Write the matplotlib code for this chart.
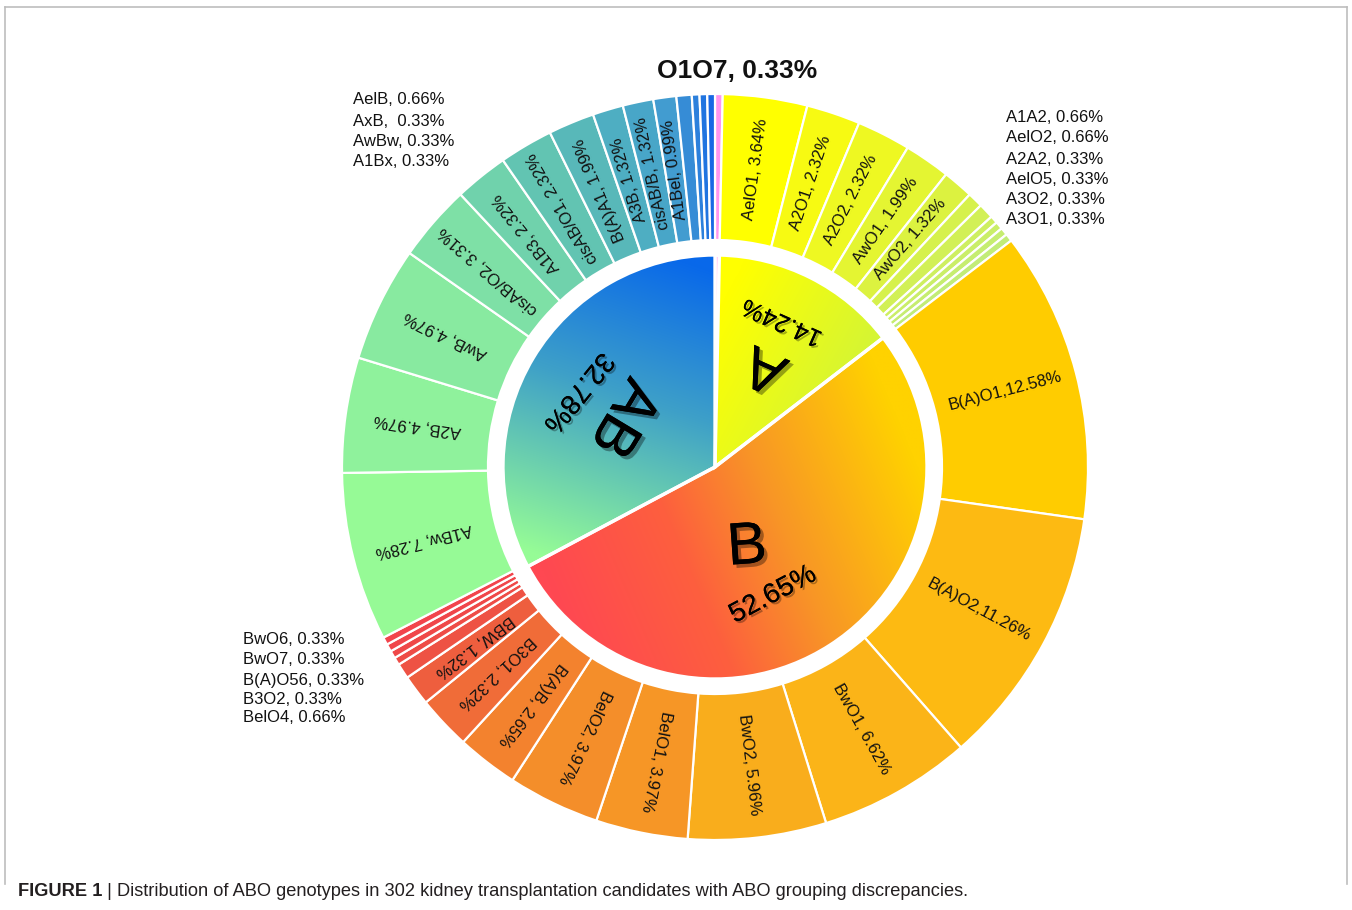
import numpy as np
import matplotlib
matplotlib.use('Agg')
import matplotlib.pyplot as plt
from matplotlib import patheffects as pe
from matplotlib import font_manager
from matplotlib.lines import Line2D

# ---------------- data ----------------
group_names = ['O1O7', 'A', 'B', 'AB']
group_values = [0.33, 14.24, 52.65, 32.78]

o_genotypes = ['O1O7']
o_values = [0.33]

a_genotypes = ['AelO1', 'A2O1', 'A2O2', 'AwO1', 'AwO2',
               'A1A2', 'AelO2', 'A2A2', 'AelO5', 'A3O2', 'A3O1']
a_values = [3.64, 2.32, 2.32, 1.99, 1.32, 0.66, 0.66, 0.33, 0.33, 0.33, 0.33]

b_genotypes = ['B(A)O1', 'B(A)O2', 'BwO1', 'BwO2', 'BelO1', 'BelO2', 'B(A)B',
               'B3O1', 'BBW', 'BelO4', 'B3O2', 'B(A)O56', 'BwO7', 'BwO6']
b_values = [12.58, 11.26, 6.62, 5.96, 3.97, 3.97, 2.65, 2.32, 1.32,
            0.66, 0.33, 0.33, 0.33, 0.33]

ab_genotypes = ['A1Bw', 'A2B', 'AwB', 'cisAB/O2', 'A1B3', 'cisAB/O1', 'B(A)A1',
                'A3B', 'cisAB/B', 'A1Bel', 'AelB', 'AxB', 'AwBw', 'A1Bx']
ab_values = [7.28, 4.97, 4.97, 3.31, 2.32, 2.32, 1.99, 1.32, 1.32, 0.99,
             0.66, 0.33, 0.33, 0.33]

no_space_after_comma = ['B(A)O1', 'B(A)O2']
inside_label_min = 0.99

top_callout = 'O1O7, 0.33%'
ab_callouts = ['AelB, 0.66%', 'AxB,  0.33%', 'AwBw, 0.33%', 'A1Bx, 0.33%']
a_callouts = ['A1A2, 0.66%', 'AelO2, 0.66%', 'A2A2, 0.33%',
              'AelO5, 0.33%', 'A3O2, 0.33%', 'A3O1, 0.33%']
b_callouts = ['BwO6, 0.33%', 'BwO7, 0.33%', 'B(A)O56, 0.33%',
              'B3O2, 0.33%', 'BelO4, 0.66%']

caption_bold = 'FIGURE 1'
caption_rest = ' | Distribution of ABO genotypes in 302 kidney transplantation candidates with ABO grouping discrepancies.'

# ---------------- styles ----------------
o_colors = ['#FF96F0']
a_colors = ['#FFFF00', '#F7FA12', '#EEF822', '#E4F532', '#DCF240',
            '#D6F14C', '#D2F056', '#CEEF60', '#CAEE68', '#C6ED70', '#C2EC78']
b_colors = ['#FFCC00', '#FDBA12', '#FBB418', '#F9AD1C', '#F69626', '#F48E2A',
            '#F3822E', '#F06C38', '#EE5E3E', '#EE5244', '#EE4C46', '#EF4848',
            '#F0464A', '#F2444C']
ab_colors = ['#96FA96', '#8FF29C', '#88EAA0', '#7EE0A6', '#70D2AC', '#62C4B2',
             '#58B8B9', '#4EAEC2', '#48A6C8', '#429CD0', '#368CD6', '#2C80DC',
             '#2074E0', '#1868E4']

W, H = 1352, 910
CX, CY = 715, H - 467
R_OUT, R_RING_IN, R_PIE = 373, 227, 212
R_LABEL = 300

FONT = ['Liberation Sans', 'DejaVu Sans']
plt.rcParams['font.family'] = FONT

fig = plt.figure(figsize=(W / 100, H / 100), dpi=100)
ax = fig.add_axes([0, 0, 1, 1])

# ---------------- outer ring ----------------
outer_names = o_genotypes + a_genotypes + b_genotypes + ab_genotypes
outer_values = o_values + a_values + b_values + ab_values
outer_colors = o_colors + a_colors + b_colors + ab_colors

outer_wedges, _ = ax.pie(outer_values, radius=R_OUT, center=(CX, CY),
                         startangle=90, counterclock=False, colors=outer_colors,
                         wedgeprops=dict(width=R_OUT - R_RING_IN, edgecolor='white',
                                         linewidth=1.6))

for w, name, val in zip(outer_wedges, outer_names, outer_values):
    if val < inside_label_min:
        continue
    mid = np.deg2rad((w.theta1 + w.theta2) / 2)
    x = CX + R_LABEL * np.cos(mid)
    y = CY + R_LABEL * np.sin(mid)
    sep = ',' if name in no_space_after_comma else ', '
    ax.text(x, y, f'{name}{sep}{val:.2f}%', rotation=np.rad2deg(mid) % 360,
            rotation_mode='anchor', ha='center', va='center', fontsize=12,
            color='#111111', zorder=5)

# ---------------- inner pie with gradients ----------------
inner_wedges, _ = ax.pie(group_values, radius=R_PIE, center=(CX, CY),
                         startangle=90, counterclock=False,
                         colors=['#FF96F0', 'none', 'none', 'none'],
                         wedgeprops=dict(edgecolor='white', linewidth=2.4))


def img_pt(x, y):
    return (x, H - y)


def gradient_fill(wedge, p0, p1, stops):
    x0, x1 = CX - R_PIE - 5, CX + R_PIE + 5
    y0, y1 = CY - R_PIE - 5, CY + R_PIE + 5
    xs = np.linspace(x0, x1, 450)
    ys = np.linspace(y0, y1, 450)
    X, Y = np.meshgrid(xs, ys)
    d = np.array(p1, float) - np.array(p0, float)
    t = ((X - p0[0]) * d[0] + (Y - p0[1]) * d[1]) / (d @ d)
    t = np.clip(t, 0, 1)
    pos = [s[0] for s in stops]
    cols = np.array([s[1] for s in stops], float) / 255.0
    img = np.stack([np.interp(t, pos, cols[:, k]) for k in range(3)], axis=-1)
    im = ax.imshow(img, extent=(x0, x1, y0, y1), origin='lower', zorder=1,
                   interpolation='bilinear')
    im.set_clip_path(wedge)
    wedge.set_zorder(2)


# A
gradient_fill(inner_wedges[1], img_pt(740, 270), img_pt(890, 350),
              [(0, (255, 255, 0)), (1, (208, 244, 58))])
# B
gradient_fill(inner_wedges[2], img_pt(560, 610), img_pt(915, 460),
              [(0, (255, 72, 82)), (0.35, (253, 95, 62)), (0.62, (248, 150, 38)),
               (1, (255, 210, 0))])
# AB
gradient_fill(inner_wedges[3], img_pt(690, 262), img_pt(585, 570),
              [(0, (8, 104, 234)), (0.45, (62, 160, 200)), (1, (150, 252, 150))])

shadow = [pe.withSimplePatchShadow(offset=(2.5, -2.5), shadow_rgbFace='black', alpha=0.35),
          pe.Normal()]
shadow_s = [pe.withSimplePatchShadow(offset=(1.5, -1.5), shadow_rgbFace='black', alpha=0.3),
            pe.Normal()]

inner_text = [
    ('A', (766, 367), 156, 43, shadow),
    ('14.24%', (782, 322), 156, 18, shadow_s),
    ('AB', (623, 417), -121, 43, shadow),
    ('32.78%', (578, 392), -129, 20, shadow_s),
    ('B', (747, 548), 4, 43, shadow),
    ('52.65%', (773, 595), 28, 20, shadow_s),
]
for s, (xi, yi), rot, fs, eff in inner_text:
    ax.text(xi, H - yi, s, rotation=rot, rotation_mode='anchor', ha='center',
            va='center', fontsize=fs, color='black', zorder=6, path_effects=eff)

# ---------------- callouts ----------------
ax.text(737, H - 71, top_callout, ha='center', va='center', fontsize=19,
        fontweight='bold', color='#111111')
for s, yi in zip(ab_callouts, [100, 122, 142, 162]):
    ax.text(353, H - yi, s, ha='left', va='center', fontsize=12, color='#111111')
for s, yi in zip(a_callouts, [118, 138, 159, 179, 199, 220]):
    ax.text(1006, H - yi, s, ha='left', va='center', fontsize=12, color='#111111')
for s, yi in zip(b_callouts, [639, 660, 680, 700, 718]):
    ax.text(243, H - yi, s, ha='left', va='center', fontsize=12, color='#111111')

# ---------------- frame ----------------
fc = '#BDBDBD'
fig.add_artist(Line2D([5 / W, 5 / W], [1 - 884 / H, 1 - 7 / H], color=fc, lw=1.2))
fig.add_artist(Line2D([1347 / W, 1347 / W], [1 - 884 / H, 1 - 7 / H], color=fc, lw=1.2))
fig.add_artist(Line2D([5 / W, 1347 / W], [1 - 7 / H, 1 - 7 / H], color=fc, lw=1.2))

# ---------------- caption ----------------
names = {f.name for f in font_manager.fontManager.ttflist}
cap_font = 'Liberation Sans Narrow' if 'Liberation Sans Narrow' in names else 'Liberation Sans'
renderer = fig.canvas.get_renderer()
cap_size = 12.5
t1 = fig.text(18 / W, 1 - 891 / H, caption_bold, fontsize=cap_size, fontweight='bold',
              family=cap_font, va='center', ha='left', color='#231F20')
bb = t1.get_window_extent(renderer)
t2 = fig.text(bb.x1 / W, 1 - 891 / H, caption_rest, fontsize=cap_size,
              family=cap_font, va='center', ha='left', color='#231F20')
bb2 = t2.get_window_extent(renderer)
scale = (970 - 18) / (bb2.x1 - 18)
cap_size *= scale
t1.set_fontsize(cap_size)
bb = t1.get_window_extent(renderer)
t2.set_fontsize(cap_size)
t2.set_x(bb.x1 / W)

ax.set_xlim(0, W)
ax.set_ylim(0, H)
ax.set_aspect('equal')
ax.axis('off')

fig.savefig('out.png', dpi=100)
